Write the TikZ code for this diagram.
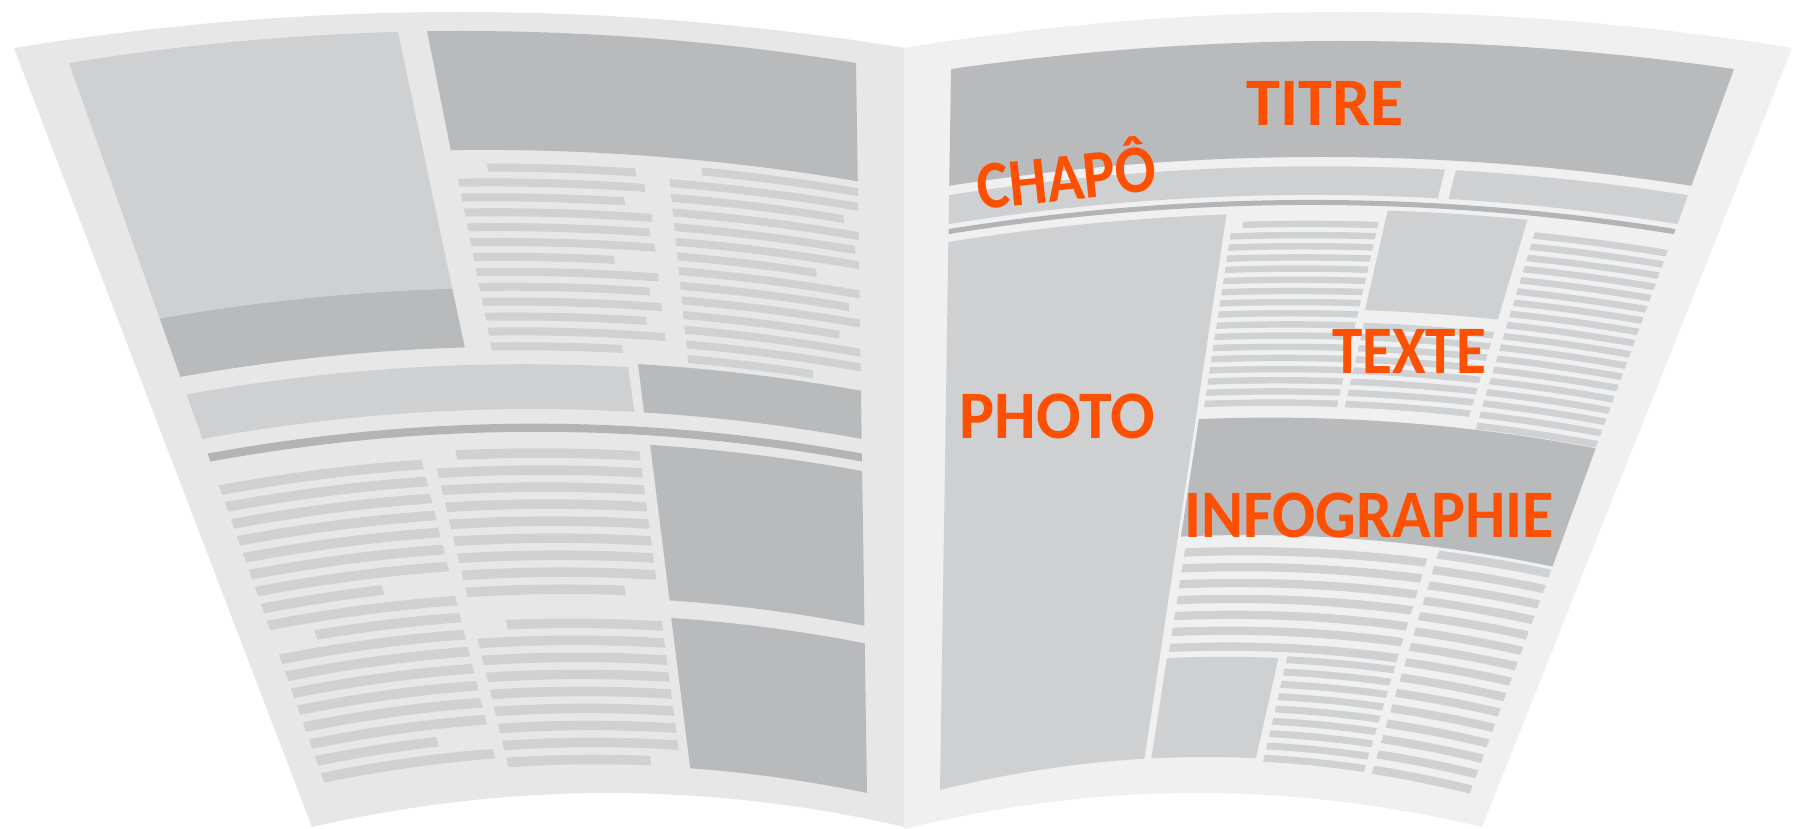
\documentclass[tikz,border=0pt]{standalone}
\usepackage{fontspec}
\newfontfamily\labelfont{Carlito}
\usetikzlibrary{calc}
\definecolor{lpc}{HTML}{E7E7E7}
\definecolor{rpc}{HTML}{F0F0F0}
\definecolor{dk}{HTML}{B9BABC}
\definecolor{lt}{HTML}{CFD0D2}
\definecolor{tl}{HTML}{D0D1D2}
\definecolor{rl}{HTML}{B3B4B6}
\definecolor{orng}{HTML}{FF5000}
\newcommand\pagedef[9]{\def\XA{#1}\def\YA{#2}\def\XB{#3}\def\YB{#4}\def\XC{#5}\def\YC{#6}\def\XD{#7}\def\YD{#8}\def\BT{#9}}
\def\BBOT{30}
\newcommand\pmap[3]{%
 \pgfmathsetmacro\pmxl{\XA+(#2)*(\XC-\XA)}%
 \pgfmathsetmacro\pmyl{\YA+(#2)*(\YC-\YA)}%
 \pgfmathsetmacro\pmxr{\XB+(#2)*(\XD-\XB)}%
 \pgfmathsetmacro\pmyr{\YB+(#2)*(\YD-\YB)}%
 \pgfmathsetmacro\pmbb{\BT+(#2)*(\BBOT-\BT)}%
 \pgfmathsetmacro\pmX{\pmxl+(#1)*(\pmxr-\pmxl)}%
 \pgfmathsetmacro\pmY{\pmyl+(#1)*(\pmyr-\pmyl)-4*\pmbb*(#1)*(1-(#1))}%
 \coordinate (#3) at (\pmX,\pmY);}
\newcommand\wblock[5]{%
 \pmap{#1}{#2}{wa}\pmap{#3}{#2}{wb}\pmap{#3}{#4}{wc}\pmap{#1}{#4}{wd}%
 \pgfmathsetmacro\whA{2*(\BT+(#2)*(\BBOT-\BT))*((#3)-(#1))^2}%
 \pgfmathsetmacro\whB{2*(\BT+(#4)*(\BBOT-\BT))*((#3)-(#1))^2}%
 \coordinate (wq1) at ($(wa)!0.5!(wb)+(0,-\whA)$);%
 \coordinate (wq2) at ($(wc)!0.5!(wd)+(0,-\whB)$);%
 \fill[#5] (wa) .. controls ($(wa)!0.6667!(wq1)$) and ($(wb)!0.6667!(wq1)$) .. (wb) -- (wc) .. controls ($(wc)!0.6667!(wq2)$) and ($(wd)!0.6667!(wq2)$) .. (wd) -- cycle;}
\newcommand\tcol[4]{%
 \foreach \ua/\ub [count=\kk from 0] in {#4} {%
  \pgfmathsetmacro\vc{#1+\kk*(#2)}%
  \wblock{\ua}{\vc-#3}{\ub}{\vc+#3}{tline}}}
\tikzset{
 blkdark/.style={fill=dk},
 blklight/.style={fill=lt},
 tline/.style={fill=tl},
 rulebar/.style={fill=rl},
 lpage/.style={fill=lpc},
 rpage/.style={fill=rpc},
 lbl/.style={font=\labelfont\bfseries\fontsize{68}{68}\selectfont, text=orng, inner sep=0pt}
}
\begin{document}
\begin{tikzpicture}[x=1pt,y=-1pt]
\fill[white] (0,0) rectangle (1801,829);
\useasboundingbox (0,0) rectangle (1801,829);
% ---------- page sheets
\pagedef{14}{48}{905}{48}{312}{827}{905}{827}{36}\def\BBOT{34}
\wblock{0}{0}{1}{1}{lpage}
\pagedef{904}{48}{1792}{48}{904}{829}{1482}{827}{36}\def\BBOT{35}
\wblock{0}{0}{1}{1}{rpage}
% ---------- left page content
\pagedef{69}{63}{856}{63}{328}{793}{867}{793}{32}\def\BBOT{28}
\wblock{0}{0}{0.418}{0.35}{blklight}
\wblock{0}{0.35}{0.418}{0.43}{blkdark}
\wblock{0.455}{0}{1}{0.162}{blkdark}
\tcol{0.186}{0.0203}{0.0055}{0.50/0.70, 0.457/0.71, 0.457/0.68, 0.457/0.715, 0.457/0.71, 0.457/0.715, 0.457/0.655, 0.457/0.715, 0.457/0.70, 0.457/0.715, 0.457/0.69, 0.457/0.715, 0.457/0.65}
\tcol{0.177}{0.02}{0.0055}{0.79/1.0, 0.745/1.0, 0.745/0.98, 0.745/1.0, 0.745/0.995, 0.745/1.0, 0.745/0.94, 0.745/1.0, 0.745/0.985, 0.745/1.0, 0.745/0.97, 0.745/1.0, 0.745/1.0, 0.745/0.93}
\wblock{0}{0.454}{0.655}{0.515}{blklight}
\wblock{0.67}{0.449}{1}{0.515}{blkdark}
\wblock{0}{0.535}{1}{0.546}{rulebar}
\wblock{0.673}{0.559}{1}{0.771}{blkdark}
\wblock{0.672}{0.795}{1}{1}{blkdark}
\tcol{0.585}{0.0232}{0.0065}{0/0.315, 0/0.315, 0/0.315, 0/0.315, 0/0.315, 0/0.315, 0/0.315, 0/0.2, 0/0.315, 0.07/0.315, 0/0.315, 0/0.315, 0/0.315, 0/0.315, 0/0.315, 0/0.315, 0/0.22, 0/0.315}
\tcol{0.575}{0.0232}{0.0065}{0.37/0.655, 0.335/0.655, 0.335/0.655, 0.335/0.655, 0.335/0.655, 0.335/0.655, 0.335/0.655, 0.335/0.655, 0.335/0.6, 0.5/0.5, 0.39/0.655, 0.335/0.655, 0.335/0.655, 0.335/0.655, 0.335/0.655, 0.335/0.655, 0.335/0.655, 0.335/0.655, 0.335/0.6}
% ---------- right page content
\pagedef{951}{69}{1734}{69}{940}{790}{1471}{790}{28}\def\BBOT{33}
\wblock{0}{0}{1}{0.162}{blkdark}
\wblock{0}{0.175}{0.671}{0.215}{blklight}
\wblock{0.686}{0.175}{1}{0.215}{blklight}
\wblock{0}{0.222}{1}{0.229}{rulebar}
\wblock{0}{0.24}{0.385}{1}{blklight}
\wblock{0.607}{0.235}{0.80}{0.374}{blklight}
\tcol{0.2555}{0.0156}{0.0045}{0.41/0.598, 0.395/0.598, 0.395/0.598, 0.395/0.598, 0.395/0.598, 0.395/0.598, 0.395/0.598, 0.395/0.598, 0.395/0.598, 0.395/0.598, 0.395/0.598, 0.395/0.598, 0.395/0.598, 0.395/0.598, 0.395/0.598, 0.395/0.598, 0.395/0.598}
\tcol{0.3959}{0.0156}{0.0045}{0.61/0.80, 0.61/0.80, 0.61/0.80, 0.61/0.80, 0.61/0.80, 0.61/0.80, 0.61/0.80, 0.61/0.80}
\tcol{0.2555}{0.0156}{0.0045}{0.815/1.0, 0.815/1.0, 0.815/1.0, 0.815/1.0, 0.815/1.0, 0.815/1.0, 0.815/1.0, 0.815/1.0, 0.815/1.0, 0.815/1.0, 0.815/1.0, 0.815/1.0, 0.815/1.0, 0.815/1.0, 0.815/1.0, 0.815/1.0, 0.815/1.0, 0.815/1.0}
\wblock{0.39}{0.526}{1}{0.69}{blkdark}
\tcol{0.7126}{0.0222}{0.0058}{0.40/0.80, 0.40/0.80, 0.40/0.80, 0.40/0.80, 0.40/0.80, 0.40/0.80, 0.40/0.80}
\tcol{0.70}{0.0214}{0.0056}{0.815/1.0, 0.815/1.0, 0.815/1.0, 0.815/1.0, 0.815/1.0, 0.815/1.0, 0.815/1.0, 0.815/1.0, 0.815/1.0, 0.815/1.0, 0.815/1.0, 0.815/1.0, 0.815/1.0, 0.815/1.0, 0.815/1.0}
\wblock{0.398}{0.86}{0.595}{1}{blklight}
\tcol{0.862}{0.0172}{0.0048}{0.61/0.80, 0.61/0.80, 0.61/0.80, 0.61/0.80, 0.61/0.80, 0.61/0.80, 0.61/0.80, 0.61/0.80, 0.61/0.80}
% ---------- labels
\node[lbl, anchor=base] (titre) at (1325,126) {TITRE};
\node[lbl, anchor=base, rotate=6, xscale=0.89] (chapo) at (1069,200) {CHAPÔ};
\node[lbl, anchor=base, xscale=0.9] (texte) at (1409,373) {TEXTE};
\node[lbl, anchor=base, xscale=0.97] (photo) at (1057,438) {PHOTO};
\node[lbl, anchor=base, xscale=0.94] (info) at (1369,537) {INFOGRAPHIE};
\end{tikzpicture}
\end{document}
